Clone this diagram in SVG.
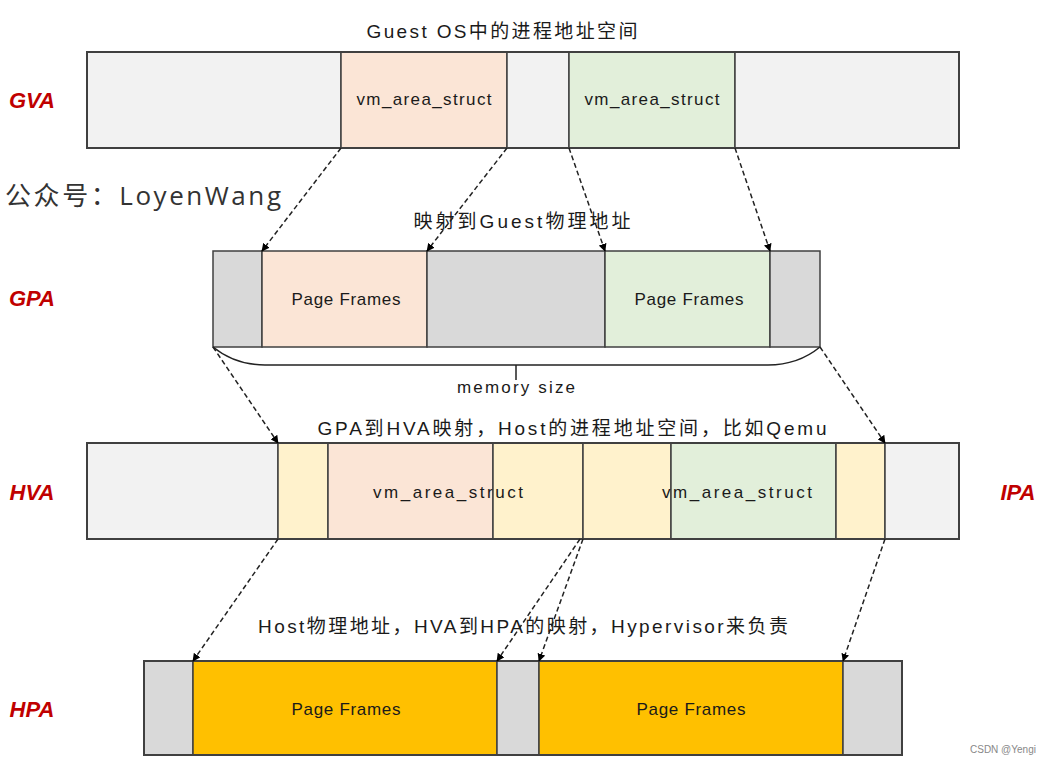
<svg xmlns="http://www.w3.org/2000/svg" width="1048" height="766" viewBox="0 0 1048 766">
<style>
.seg{stroke:#404040;stroke-width:1.5}
.lg{fill:#f2f2f2}.dg{fill:#d9d9d9}.pe{fill:#fbe5d6}.gr{fill:#e2efda}.ye{fill:#fff2cc}.or{fill:#ffc000}
.frame{fill:none;stroke:#404040;stroke-width:2}
.t{font-family:"Liberation Sans","Noto Sans CJK SC",sans-serif;font-size:17px;fill:#1a1a1a;text-anchor:middle}
.h{font-family:"Liberation Sans","Noto Sans CJK SC",sans-serif;font-size:19px;fill:#1a1a1a;text-anchor:middle}
.lab{font-family:"Liberation Sans",sans-serif;font-size:22px;font-weight:bold;font-style:italic;fill:#c00000;text-anchor:middle}
.con{stroke:#222;stroke-width:1.5;stroke-dasharray:5,3;fill:none;marker-end:url(#ah)}
</style>
<defs>
<marker id="ah" viewBox="0 0 10 10" refX="9" refY="5" markerWidth="8" markerHeight="8" markerUnits="userSpaceOnUse" orient="auto"><path d="M0,0 L10,5 L0,10 z" fill="#000"/></marker>
</defs>
<rect width="1048" height="766" fill="#fff"/>

<text class="h" x="502" y="38" textLength="271" lengthAdjust="spacing">Guest OS中的进程地址空间</text>
<text x="5" y="205" font-family="'Open Sans','Noto Sans CJK SC',sans-serif" font-size="26" fill="#333" textLength="276" lengthAdjust="spacing">公众号：LoyenWang</text>
<text class="h" x="522" y="228" textLength="217" lengthAdjust="spacing">映射到Guest物理地址</text>
<text class="h" x="572" y="435" textLength="509" lengthAdjust="spacing">GPA到HVA映射，Host的进程地址空间，比如Qemu</text>
<text class="h" x="523" y="633" textLength="530" lengthAdjust="spacing">Host物理地址，HVA到HPA的映射，Hypervisor来负责</text>
<text x="970" y="753" font-family="'Liberation Sans',sans-serif" font-size="10" fill="#888">CSDN @Yengi</text>

<g id="labels">
<text class="lab" x="32" y="108">GVA</text>
<text class="lab" x="32" y="306">GPA</text>
<text class="lab" x="32" y="500">HVA</text>
<text class="lab" x="32" y="717">HPA</text>
<text class="lab" x="1018" y="500">IPA</text>
</g>

<g id="gva">
<rect class="seg lg" x="87" y="52" width="254" height="96"/>
<rect class="seg pe" x="341" y="52" width="166" height="96"/>
<rect class="seg lg" x="507" y="52" width="62" height="96"/>
<rect class="seg gr" x="569" y="52" width="166" height="96"/>
<rect class="seg lg" x="735" y="52" width="224" height="96"/>
<rect class="frame" x="87" y="52" width="872" height="96"/>
<text class="t" x="424" y="105" textLength="135" lengthAdjust="spacing">vm_area_struct</text>
<text class="t" x="652" y="105" textLength="135" lengthAdjust="spacing">vm_area_struct</text>
</g>

<g id="gpa">
<rect class="seg dg" x="213" y="251" width="49" height="96"/>
<rect class="seg pe" x="262" y="251" width="165" height="96"/>
<rect class="seg dg" x="427" y="251" width="178" height="96"/>
<rect class="seg gr" x="605" y="251" width="165" height="96"/>
<rect class="seg dg" x="770" y="251" width="50" height="96"/>
<text class="t" x="346" y="305" textLength="109" lengthAdjust="spacing">Page Frames</text>
<text class="t" x="689" y="305" textLength="109" lengthAdjust="spacing">Page Frames</text>
<path d="M213,347 Q235,365 265,365 L768,365 Q798,365 820,347" fill="none" stroke="#222" stroke-width="1.5"/>
<line x1="516" y1="365" x2="516" y2="380" stroke="#222" stroke-width="1.5"/>
<text class="t" x="516" y="393" textLength="118" lengthAdjust="spacing">memory size</text>
</g>

<g id="hva">
<rect class="seg lg" x="87" y="443" width="191" height="96"/>
<rect class="seg ye" x="278" y="443" width="50" height="96"/>
<rect class="seg pe" x="328" y="443" width="165" height="96"/>
<rect class="seg ye" x="493" y="443" width="90" height="96"/>
<rect class="seg ye" x="583" y="443" width="88" height="96"/>
<rect class="seg gr" x="671" y="443" width="165" height="96"/>
<rect class="seg ye" x="836" y="443" width="49" height="96"/>
<rect class="seg lg" x="885" y="443" width="74" height="96"/>
<rect class="frame" x="87" y="443" width="872" height="96"/>
<text class="t" x="448" y="498" textLength="150" lengthAdjust="spacing">vm_area_struct</text>
<text class="t" x="737" y="498" textLength="150" lengthAdjust="spacing">vm_area_struct</text>
</g>

<g id="hpa">
<rect class="seg dg" x="144" y="661" width="49" height="94"/>
<rect class="seg or" x="193" y="661" width="304" height="94"/>
<rect class="seg dg" x="497" y="661" width="42" height="94"/>
<rect class="seg or" x="539" y="661" width="304" height="94"/>
<rect class="seg dg" x="843" y="661" width="59" height="94"/>
<rect class="frame" x="144" y="661" width="758" height="94"/>
<text class="t" x="346" y="715" textLength="109" lengthAdjust="spacing">Page Frames</text>
<text class="t" x="691" y="715" textLength="109" lengthAdjust="spacing">Page Frames</text>
</g>

<g id="connectors">
<line class="con" x1="341" y1="148" x2="262" y2="251"/>
<line class="con" x1="507" y1="148" x2="427" y2="251"/>
<line class="con" x1="569" y1="148" x2="605" y2="251"/>
<line class="con" x1="735" y1="148" x2="770" y2="251"/>
<line class="con" x1="213" y1="347" x2="278" y2="443"/>
<line class="con" x1="820" y1="347" x2="885" y2="443"/>
<line class="con" x1="278" y1="539" x2="193" y2="661"/>
<line class="con" x1="580" y1="539" x2="497" y2="661"/>
<line class="con" x1="583" y1="539" x2="539" y2="661"/>
<line class="con" x1="885" y1="539" x2="843" y2="661"/>
</g>
</svg>
